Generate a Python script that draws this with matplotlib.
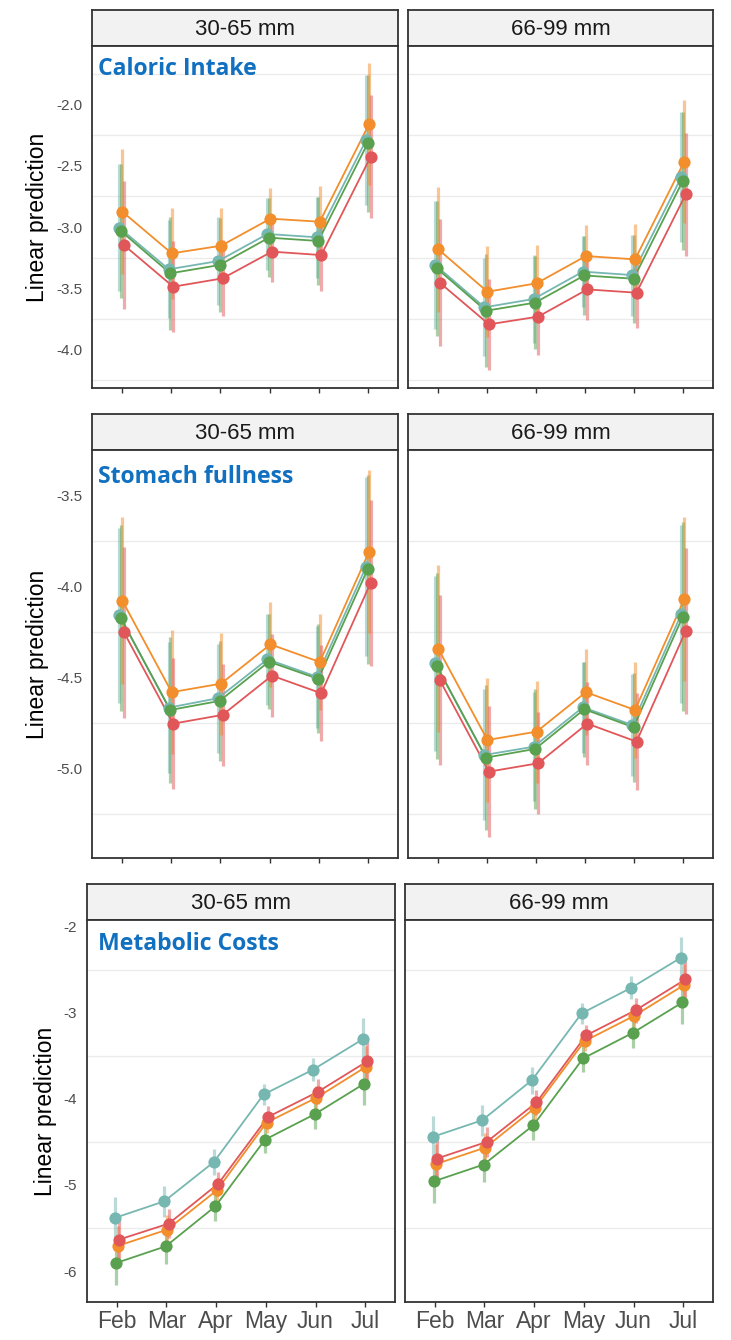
import matplotlib
matplotlib.use("Agg")
import matplotlib.pyplot as plt
import numpy as np

# ---------------- data ----------------
months = ["Feb", "Mar", "Apr", "May", "Jun", "Jul"]
size_classes = ["30-65 mm", "66-99 mm"]
groups = ["teal", "green", "orange", "red"]
group_colors = {"teal": "#76B7B2", "green": "#59A14F", "orange": "#F28E2B", "red": "#E15759"}

# Caloric intake
cal_small_teal = [-3.005, -3.344, -3.277, -3.056, -3.083, -2.290]
cal_small_green = [-3.032, -3.377, -3.309, -3.086, -3.113, -2.317]
cal_small_orange = [-2.874, -3.214, -3.152, -2.931, -2.956, -2.159]
cal_small_red = [-3.146, -3.486, -3.418, -3.200, -3.228, -2.426]
cal_large_teal = [-3.309, -3.654, -3.586, -3.363, -3.391, -2.594]
cal_large_green = [-3.336, -3.682, -3.616, -3.394, -3.421, -2.624]
cal_large_orange = [-3.181, -3.527, -3.458, -3.236, -3.263, -2.466]
cal_large_red = [-3.453, -3.793, -3.730, -3.508, -3.535, -2.733]
cal_hw_teal = [0.52, 0.40, 0.36, 0.29, 0.33, 0.53]
cal_hw_green = [0.55, 0.46, 0.38, 0.32, 0.36, 0.56]
cal_hw_orange = [0.51, 0.37, 0.31, 0.25, 0.29, 0.50]
cal_hw_red = [0.52, 0.37, 0.31, 0.25, 0.29, 0.50]

# Stomach fullness
sto_small_teal = [-4.158, -4.666, -4.614, -4.400, -4.496, -3.890]
sto_small_green = [-4.174, -4.679, -4.629, -4.413, -4.508, -3.905]
sto_small_orange = [-4.078, -4.581, -4.534, -4.318, -4.415, -3.808]
sto_small_red = [-4.251, -4.754, -4.706, -4.490, -4.587, -3.980]
sto_large_teal = [-4.422, -4.926, -4.881, -4.664, -4.761, -4.152]
sto_large_green = [-4.437, -4.941, -4.893, -4.675, -4.774, -4.165]
sto_large_orange = [-4.342, -4.844, -4.798, -4.581, -4.679, -4.070]
sto_large_red = [-4.514, -5.018, -4.972, -4.754, -4.853, -4.244]
sto_hw_teal = [0.48, 0.36, 0.30, 0.25, 0.28, 0.49]
sto_hw_green = [0.51, 0.40, 0.33, 0.26, 0.30, 0.52]
sto_hw_orange = [0.46, 0.34, 0.28, 0.235, 0.265, 0.45]
sto_hw_red = [0.47, 0.36, 0.28, 0.23, 0.265, 0.455]

# Metabolic costs
met_small_teal = [-5.384, -5.190, -4.733, -3.949, -3.659, -3.306]
met_small_green = [-5.907, -5.713, -5.248, -4.473, -4.178, -3.822]
met_small_orange = [-5.709, -5.519, -5.062, -4.275, -3.988, -3.628]
met_small_red = [-5.635, -5.449, -4.984, -4.209, -3.919, -3.562]
met_large_teal = [-4.442, -4.248, -3.783, -3.007, -2.709, -2.360]
met_large_green = [-4.957, -4.763, -4.306, -3.530, -3.233, -2.879]
met_large_orange = [-4.759, -4.566, -4.105, -3.329, -3.035, -2.678]
met_large_red = [-4.693, -4.500, -4.042, -3.263, -2.969, -2.612]
met_hw_teal = [0.24, 0.18, 0.155, 0.12, 0.135, 0.245]
met_hw_green = [0.25, 0.205, 0.17, 0.155, 0.175, 0.255]
met_hw_orange = [0.23, 0.17, 0.14, 0.12, 0.14, 0.24]
met_hw_red = [0.23, 0.17, 0.14, 0.125, 0.145, 0.245]

panel_titles = ["Caloric Intake", "Stomach fullness", "Metabolic Costs"]
ytick_vals = [[-4.0, -3.5, -3.0, -2.5, -2.0], [-5.0, -4.5, -4.0, -3.5], [-6, -5, -4, -3, -2]]
ytick_labels = [["-4.0", "-3.5", "-3.0", "-2.5", "-2.0"], ["-5.0", "-4.5", "-4.0", "-3.5"],
                ["-6", "-5", "-4", "-3", "-2"]]

row_data = [
    [{"teal": cal_small_teal, "green": cal_small_green, "orange": cal_small_orange, "red": cal_small_red},
     {"teal": cal_large_teal, "green": cal_large_green, "orange": cal_large_orange, "red": cal_large_red}],
    [{"teal": sto_small_teal, "green": sto_small_green, "orange": sto_small_orange, "red": sto_small_red},
     {"teal": sto_large_teal, "green": sto_large_green, "orange": sto_large_orange, "red": sto_large_red}],
    [{"teal": met_small_teal, "green": met_small_green, "orange": met_small_orange, "red": met_small_red},
     {"teal": met_large_teal, "green": met_large_green, "orange": met_large_orange, "red": met_large_red}],
]
row_hw = [
    {"teal": cal_hw_teal, "green": cal_hw_green, "orange": cal_hw_orange, "red": cal_hw_red},
    {"teal": sto_hw_teal, "green": sto_hw_green, "orange": sto_hw_orange, "red": sto_hw_red},
    {"teal": met_hw_teal, "green": met_hw_green, "orange": met_hw_orange, "red": met_hw_red},
]

# ---------------- layout ----------------
W, H = 731, 1340
fig = plt.figure(figsize=(W / 100, H / 100), dpi=100)

layout = [
    dict(strip=10, top=46, bot=388, xs=[(92, 398), (408, 713)], ylim=(-4.312, -1.523), title_base=75),
    dict(strip=414, top=450, bot=858, xs=[(92, 398), (408, 713)], ylim=(-5.493, -3.249), title_base=483),
    dict(strip=884, top=920, bot=1302, xs=[(87, 395), (405, 713)], ylim=(-6.36, -1.922), title_base=950),
]

def add_ax(x0, x1, y0, y1):
    return fig.add_axes([x0 / W, 1 - y1 / H, (x1 - x0) / W, (y1 - y0) / H])

frame_col = "#333333"
dodge = {"teal": -0.045, "green": -0.015, "orange": 0.015, "red": 0.045}
x = np.arange(1, len(months) + 1)
sans = ["Liberation Sans", "DejaVu Sans"]

for r, L in enumerate(layout):
    lo, hi = L["ylim"]
    yt = np.array(ytick_vals[r], dtype=float)
    step = yt[1] - yt[0]
    grid = np.arange(yt[0] - step / 2, hi + 1e-9, step)
    grid = grid[(grid > lo) & (grid < hi)]
    for c, (x0, x1) in enumerate(L["xs"]):
        # strip
        sax = add_ax(x0, x1, L["strip"], L["top"])
        sax.set_facecolor("#F2F2F2")
        sax.set_xticks([]); sax.set_yticks([])
        for s in sax.spines.values():
            s.set_color(frame_col); s.set_linewidth(1.3)
        sax.text(0.5, 0.45, size_classes[c], ha="center", va="center", fontsize=16,
                 color="#1A1A1A", family=sans, transform=sax.transAxes)

        ax = add_ax(x0, x1, L["top"], L["bot"])
        ax.set_xlim(0.4, 6.6)
        ax.set_ylim(lo, hi)
        for g in grid:
            ax.axhline(g, color="#EBEBEB", lw=1.0, zorder=0)
        data = row_data[r][c]
        hw = row_hw[r]
        for gname in groups:
            xd = x + dodge[gname]
            yv = np.array(data[gname]); h = np.array(hw[gname])
            ax.vlines(xd, yv - h, yv + h, color=group_colors[gname], lw=2.3, alpha=0.5, zorder=2)
        for gname in groups:
            xd = x + dodge[gname]
            ax.plot(xd, data[gname], color=group_colors[gname], lw=1.3, zorder=3)
        for gname in groups:
            xd = x + dodge[gname]
            ax.plot(xd, data[gname], linestyle="none", marker="o", ms=8.8,
                    mfc=group_colors[gname], mec=group_colors[gname], mew=0, zorder=4)
        for s in ax.spines.values():
            s.set_color(frame_col); s.set_linewidth(1.3)
        ax.set_xticks(x)
        ax.tick_params(axis="x", length=3.5, width=1.0, color=frame_col, pad=2)
        if r == 2:
            ax.set_xticklabels(months, fontsize=16.5, color="#4D4D4D", family=sans)
        else:
            ax.set_xticklabels([])
        ax.set_yticks(yt)
        ax.tick_params(axis="y", length=0, pad=7)
        if c == 0:
            ax.set_yticklabels(ytick_labels[r], fontsize=11, color="#4D4D4D", family=sans)
        else:
            ax.set_yticklabels([])
        if c == 0:
            # panel title
            fig.text(98 / W, 1 - L["title_base"] / H, panel_titles[r], ha="left", va="baseline",
                     fontsize=16.6, fontweight="bold", color="#1170C0", family=["Open Sans", "DejaVu Sans"])
    # y label
    ycen = (L["top"] + L["bot"]) / 2
    xlab = 38 if r < 2 else 46
    fig.text(xlab / W, 1 - ycen / H, "Linear prediction", rotation=90, ha="center", va="center",
             fontsize=16.5, color="black", family=sans)

fig.savefig("out.png", dpi=100, facecolor="white")
